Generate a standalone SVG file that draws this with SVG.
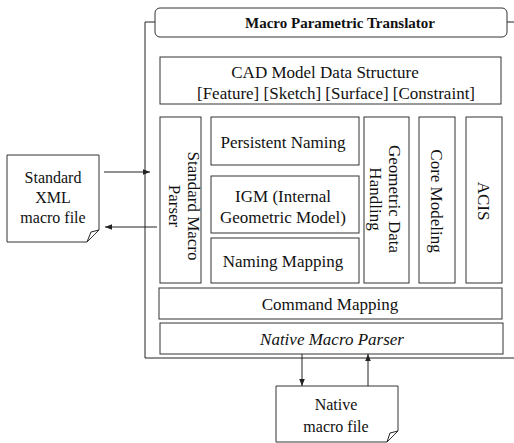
<svg xmlns="http://www.w3.org/2000/svg" width="514" height="443" viewBox="0 0 514 443">
<style>
.b{fill:#fff;stroke:#333;stroke-width:1}
.l{fill:none;stroke:#222;stroke-width:1}
text{font-family:"Liberation Serif","Times New Roman",serif;font-size:17px;fill:#111;text-anchor:middle}
.t{font-weight:bold;font-size:15px}
.i{font-style:italic}
.d{font-size:16px}
</style>
<defs>
<marker id="ah" viewBox="0 0 10 10" refX="10" refY="5" markerWidth="7" markerHeight="7" orient="auto" markerUnits="userSpaceOnUse">
<path d="M0,1 L10,5 L0,9 Z" fill="#222"/>
</marker>
</defs>
<g id="frame">
<path class="l" d="M155,22 H145 V358 H514 M507,22 H514"/>
</g>
<g id="title">
<rect class="b" x="155" y="8" width="352" height="29" rx="5"/>
<text class="t" x="340" y="28">Macro Parametric Translator</text>
</g>
<g id="cad">
<rect class="b" x="160" y="57" width="341" height="47"/>
<text x="325" y="78">CAD Model Data Structure</text>
<text x="336" y="99">[Feature] [Sketch] [Surface] [Constraint]</text>
</g>
<g id="smp">
<rect class="b" x="160" y="117" width="41" height="166"/>
<text transform="translate(188,206) rotate(90)">Standard Macro</text>
<text transform="translate(169,206) rotate(90)">Parser</text>
</g>
<g id="pn">
<rect class="b" x="211" y="117" width="148" height="48"/>
<text x="283" y="148">Persistent Naming</text>
</g>
<g id="igm">
<rect class="b" x="211" y="176" width="148" height="57"/>
<text x="283" y="202">IGM (Internal</text>
<text x="283" y="223">Geometric Model)</text>
</g>
<g id="nm">
<rect class="b" x="211" y="238" width="148" height="45"/>
<text x="283" y="267">Naming Mapping</text>
</g>
<g id="gdh">
<rect class="b" x="364" y="117" width="45" height="166"/>
<text transform="translate(389,199) rotate(90)">Geometric Data</text>
<text transform="translate(370,199) rotate(90)">Handling</text>
</g>
<g id="cm">
<rect class="b" x="419" y="117" width="36" height="166"/>
<text transform="translate(431,201) rotate(90)">Core Modeling</text>
</g>
<g id="acis">
<rect class="b" x="466" y="117" width="36" height="166"/>
<text transform="translate(478,201) rotate(90)">ACIS</text>
</g>
<g id="cmd">
<rect class="b" x="159" y="288" width="343" height="31"/>
<text x="330" y="310">Command Mapping</text>
</g>
<g id="nmp">
<rect class="b" x="160" y="323" width="343" height="31"/>
<text class="i" x="332" y="345">Native Macro Parser</text>
</g>
<g id="xml">
<path class="b" d="M7,155 H99 V230 L87,242 H7 Z"/>
<path class="l" d="M99,230 L91,232 L87,242"/>
<text class="d" x="53" y="183">Standard</text>
<text class="d" x="53" y="203">XML</text>
<text class="d" x="53" y="223">macro file</text>
</g>
<g id="nat">
<path class="b" d="M276,386 H398 V431 L387,442 H276 Z"/>
<path class="l" d="M398,431 L390,433 L387,442"/>
<text class="d" x="336" y="410">Native</text>
<text class="d" x="336" y="432">macro file</text>
</g>
<g id="connectors">
<line class="l" x1="104" y1="172" x2="150" y2="172" marker-end="url(#ah)"/>
<line class="l" x1="157" y1="227" x2="105" y2="227" marker-end="url(#ah)"/>
<line class="l" x1="302" y1="354" x2="302" y2="386" marker-end="url(#ah)"/>
<line class="l" x1="368" y1="386" x2="368" y2="354" marker-end="url(#ah)"/>
</g>
</svg>
